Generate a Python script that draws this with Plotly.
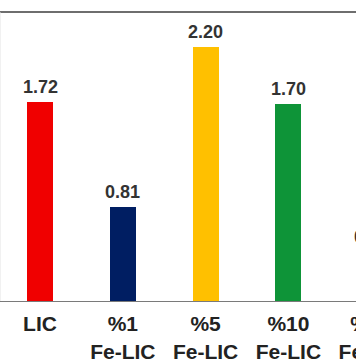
import plotly.graph_objects as go

categories = ["LIC", "%1<br>Fe-LIC", "%5<br>Fe-LIC", "%10<br>Fe-LIC", "%20<br>Fe-LIC"]
values = [1.72, 0.81, 2.20, 1.70, 0.42]
labels = ["1.72", "0.81", "2.20", "1.70", "0.42"]
colors = ["#F00000", "#001E62", "#FFC000", "#0E9438", "#7F7F7F"]

xs = list(range(len(categories)))

fig = go.Figure(go.Bar(
    x=xs,
    y=values,
    marker=dict(color=colors, line=dict(width=0)),
    width=0.315,
    cliponaxis=False,
    hoverinfo="skip",
))

for x, v, t in zip(xs, values, labels):
    fig.add_annotation(
        x=x, y=v, text=t, showarrow=False, yanchor="bottom", yshift=3,
        font=dict(family="Liberation Sans, Arial", size=18, color="#333333", weight="bold"),
    )

# figure is wider than the window; the page clips it (as in the cropped reference)
fig.update_layout(
    width=420, height=364,
    margin=dict(l=0, r=0, t=12, b=63),
    plot_bgcolor="white", paper_bgcolor="white",
    showlegend=False,
    bargap=0,
    xaxis=dict(
        tickmode="array",
        tickvals=xs,
        ticktext=categories,
        range=[-0.483, 4.589],
        showline=True, linecolor="#7A7A7A", linewidth=1,
        showgrid=False, zeroline=False, ticks="",
        ticklabelstandoff=4,
        tickfont=dict(family="Liberation Sans, Arial", size=21, color="#222222", weight="bold"),
    ),
    yaxis=dict(
        range=[0, 2.5],
        visible=False,
        showgrid=False,
    ),
    shapes=[dict(type="line", xref="paper", yref="paper", x0=0, x1=1, y0=1, y1=1,
                 line=dict(color="#6E6E6E", width=2)),
            dict(type="line", xref="paper", yref="paper", x0=0, x1=0, y0=0, y1=1,
                 line=dict(color="#E4E4E4", width=1))],
)

fig.write_html("out.html", config={"displayModeBar": False},
               post_script="document.body.style.margin='0';document.body.style.overflow='hidden';document.documentElement.style.overflow='hidden';")
